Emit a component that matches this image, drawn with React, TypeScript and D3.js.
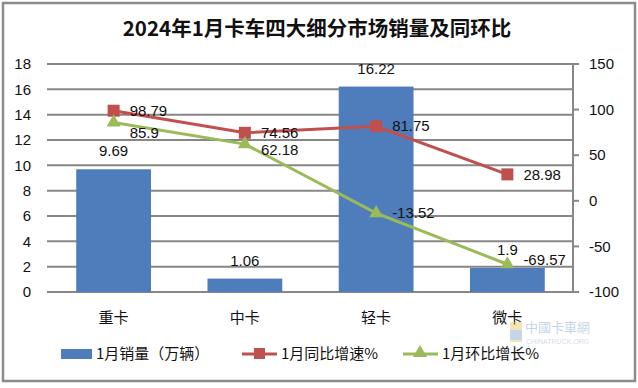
import React from 'react';
import * as d3 from 'd3';

// chart data
const categories = ['重卡', '中卡', '轻卡', '微卡'];
const sales = [9.69, 1.06, 16.22, 1.9];
const yoy = [98.79, 74.56, 81.75, 28.98];
const mom = [85.9, 62.18, -13.52, -69.57];
const leftTicks = [0, 2, 4, 6, 8, 10, 12, 14, 16, 18];
const rightTicks = [-100, -50, 0, 50, 100, 150];

const W = 638;
const H = 388;
const margin = { top: 64, right: 65, bottom: 96, left: 48 };

const BLUE = '#4F7DBB';
const RED = '#C0504D';
const GREEN = '#9BBB59';
const GRID = '#878787';
const FONT = '"Liberation Sans", "Noto Sans CJK SC", sans-serif';
const CJK = '"Noto Sans CJK SC", sans-serif';

// small per-label nudges, the source chart has hand-placed labels
const momLabelDy = [10, 6, 0, -4];

const App = () => {
    const x0 = margin.left;
    const x1 = W - margin.right;
    const y0 = H - margin.bottom;
    const yTop = margin.top;

    const x = d3.scaleBand().domain(categories).range([x0, x1]).paddingInner(0.43).paddingOuter(0.215);
    const band = d3.scaleBand().domain(categories).range([x0, x1]);
    const yL = d3.scaleLinear().domain([0, 18]).range([y0, yTop]);
    const yR = d3.scaleLinear().domain([-100, 150]).range([y0, yTop]);

    const cx = (c: string) => (band(c) || 0) + band.bandwidth() / 2;

    const line = d3.line<number>()
        .x((_, i) => cx(categories[i]))
        .y(d => yR(d));

    const tri = d3.symbol().type(d3.symbolTriangle).size(85)();

    return (
        <div style={{ position: 'absolute', left: 0, top: 0 }}>
            <svg width={W} height={H} style={{ display: 'block', background: '#fff' }}>
                <rect x={3} y={3} width={632} height={378} fill="#fff" stroke="#8c8c8c" strokeWidth={2.5} />

                <text x={317} y={36} textAnchor="middle" fontFamily={CJK} fontWeight="bold" fontSize={20.5} fill="#111">
                    2024年1月卡车四大细分市场销量及同环比
                </text>

                {/* gridlines + left labels */}
                {leftTicks.map(t => (
                    <g key={'l' + t}>
                        <line x1={x0 - 1} x2={x1} y1={yL(t)} y2={yL(t)} stroke={GRID} strokeWidth={2} />
                        <text x={31} y={yL(t)} dy="0.35em" textAnchor="end" fontFamily={FONT} fontSize={15} fill="#111">{t}</text>
                    </g>
                ))}

                {/* right axis */}
                <line x1={x1} x2={x1} y1={yTop} y2={y0} stroke={GRID} strokeWidth={2} />
                {rightTicks.map(t => (
                    <g key={'r' + t}>
                        <line x1={x1} x2={x1 + 6} y1={yR(t)} y2={yR(t)} stroke={GRID} strokeWidth={2} />
                        <text x={589} y={yR(t)} dy="0.35em" fontFamily={FONT} fontSize={15} fill="#111">{t}</text>
                    </g>
                ))}

                {/* bars */}
                {sales.map((v, i) => (
                    <rect key={'b' + i} x={x(categories[i])} y={yL(v)} width={x.bandwidth()} height={y0 - yL(v)} fill={BLUE} />
                ))}
                {sales.map((v, i) => (
                    <text key={'bl' + i} x={cx(categories[i])} y={yL(v) - 13} textAnchor="middle" fontFamily={FONT} fontSize={15} fill="#111">{v}</text>
                ))}

                {/* category labels */}
                {categories.map(c => (
                    <text key={c} x={cx(c)} y={318} dy="0.35em" textAnchor="middle" fontFamily={CJK} fontSize={15} fill="#111">{c}</text>
                ))}

                {/* yoy line */}
                <path d={line(yoy) || ''} fill="none" stroke={RED} strokeWidth={3} />
                {yoy.map((v, i) => (
                    <rect key={'rm' + i} x={cx(categories[i]) - 6} y={yR(v) - 6} width={12} height={12} fill={RED} />
                ))}

                {/* mom line */}
                <path d={line(mom) || ''} fill="none" stroke={GREEN} strokeWidth={3} />
                {mom.map((v, i) => (
                    <path key={'gm' + i} d={tri || ''} transform={`translate(${cx(categories[i])},${yR(v)})`} fill={GREEN} />
                ))}

                {yoy.map((v, i) => (
                    <text key={'rl' + i} x={cx(categories[i]) + 16} y={yR(v)} dy="0.35em" fontFamily={FONT} fontSize={15} fill="#111">{v}</text>
                ))}
                {mom.map((v, i) => (
                    <text key={'gl' + i} x={cx(categories[i]) + 16} y={yR(v) + momLabelDy[i]} dy="0.35em" fontFamily={FONT} fontSize={15} fill="#111">{v}</text>
                ))}

                {/* legend */}
                <g fontFamily={CJK} fontSize={15} fill="#111">
                    <rect x={61} y={349} width={31} height={10} fill={BLUE} />
                    <text x={96} y={354} dy="0.35em">1月销量（万辆）</text>
                    <line x1={242} x2={277} y1={354} y2={354} stroke={RED} strokeWidth={3} />
                    <rect x={254} y={348} width={11} height={11} fill={RED} />
                    <text x={281} y={354} dy="0.35em">1月同比增速%</text>
                    <line x1={403} x2={438} y1={354} y2={354} stroke={GREEN} strokeWidth={3} />
                    <path d={tri || ''} transform="translate(420,353)" fill={GREEN} />
                    <text x={442} y={354} dy="0.35em">1月环比增长%</text>
                </g>

                {/* watermark */}
                <g opacity={0.45}>
                    <rect x={510} y={322} width={12} height={20} fill="#E8C85A" />
                    <rect x={510} y={330} width={12} height={10} fill="#7FA6D0" />
                    <text x={525} y={332} fontFamily={CJK} fontSize={13} fill="#7FA6D0">中國卡車網</text>
                    <text x={526} y={344} fontFamily={FONT} fontSize={7} fill="#9FB4CC">CHINATRUCK.ORG</text>
                </g>
            </svg>
        </div>
    );
};

export default App;
